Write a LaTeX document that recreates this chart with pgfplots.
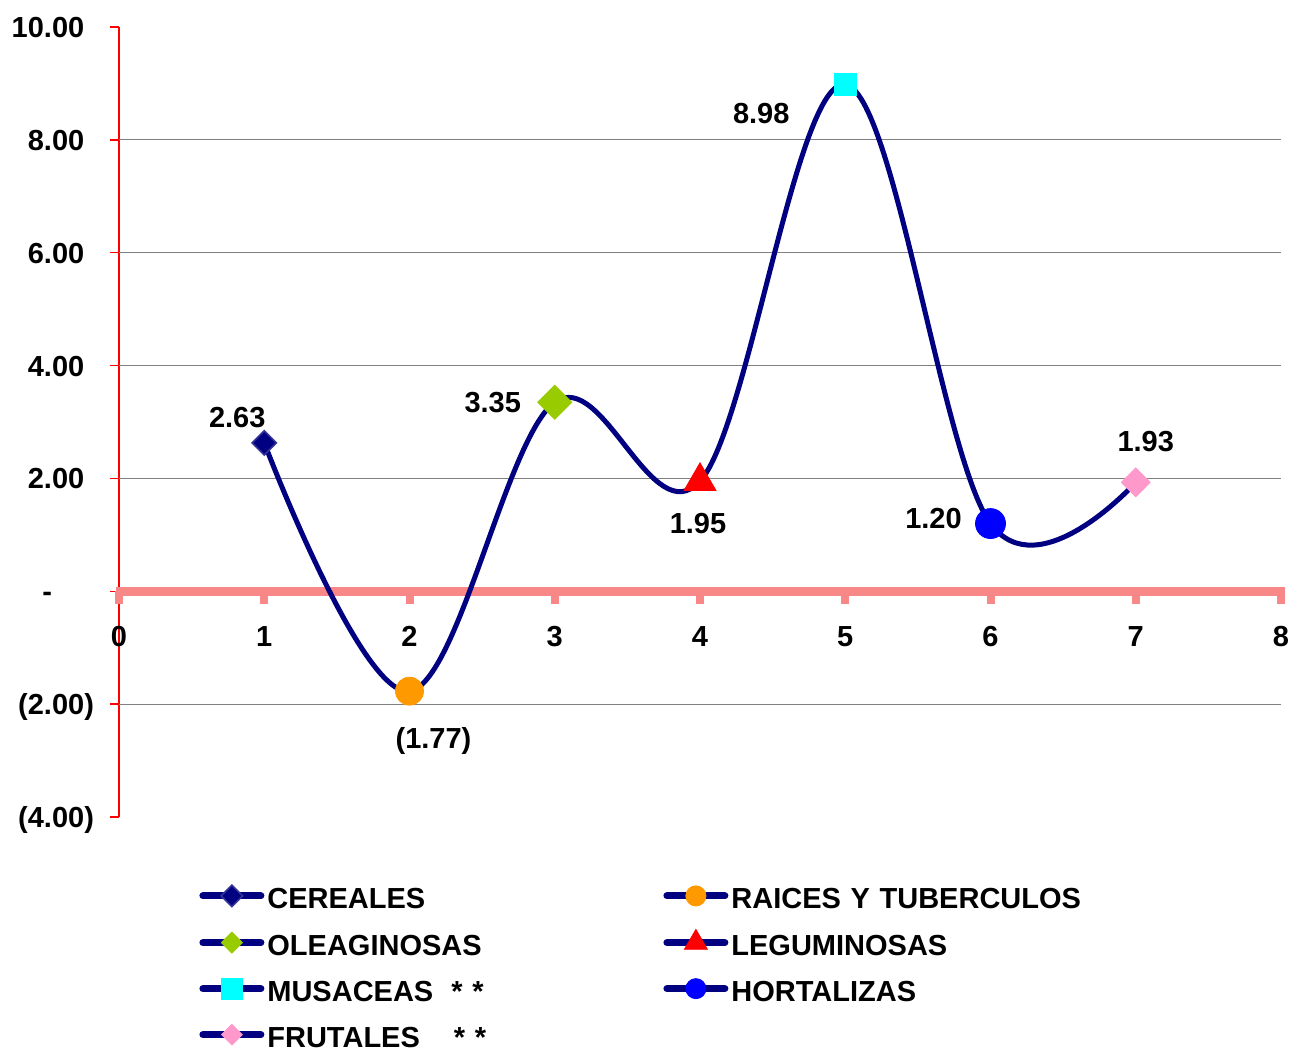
\documentclass[border=0pt]{standalone}
\usepackage{pgfplots}
\pgfplotsset{compat=1.18}
\usepackage{fontspec}
\setmainfont{Liberation Sans}

\definecolor{navyl}{RGB}{0,0,128}
\definecolor{axpink}{RGB}{248,135,135}
\definecolor{cerfill}{RGB}{0,0,128}
\definecolor{cerdraw}{RGB}{51,51,153}
\definecolor{raic}{RGB}{255,153,0}
\definecolor{olea}{RGB}{153,204,0}
\definecolor{musa}{RGB}{0,255,255}
\definecolor{hort}{RGB}{0,0,255}
\definecolor{frut}{RGB}{255,153,204}
\newcommand{\lbl}{\fontsize{14.5}{17}\selectfont\bfseries}
% scale of a marker in its legend image
\def\lgsc{1}
\tikzset{lgsc/.store in=\lgsc}

\begin{document}
\begin{tikzpicture}
\useasboundingbox (-59.5pt,-117.5pt) rectangle (587pt,408.5pt);
\begin{axis}[
    scale only axis,
    width=581pt, height=395pt,
    xmin=0, xmax=8, ymin=-4, ymax=10,
    clip=false,
    axis y line=left,
    axis x line=middle,
    hide obscured x ticks=false,
    x axis line style={draw=none},
    y axis line style={draw=red, line width=0.75pt, -},
    tick align=outside,
    major tick length=4.5pt,
    xtick={0,1,2,3,4,5,6,7,8},
    xticklabels={0,1,2,3,4,5,6,7,8},
    xtick style={draw=none},
    ytick={-4,-2,0,2,4,6,8,10},
    yticklabels={(4.00),(2.00),-\phantom{00)},2.00\phantom{)},4.00\phantom{)},6.00\phantom{)},8.00\phantom{)},10.00\phantom{)}},
    ytick style={draw=red, line width=0.75pt},
    xticklabel style={font=\lbl, anchor=north, yshift=-9.5pt},
    yticklabel style={font=\lbl, anchor=east, xshift=-4.5pt, yshift=-1.5pt},
    legend columns=2,
    legend cell align=left,
    legend style={draw=none, fill=none, at={(0,0)}, anchor=north west,
        xshift=40pt, yshift=-33pt, inner sep=0pt, font=\lbl, row sep=10.5pt,
        nodes={inner sep=0pt, text width=190pt, text height=12.5pt, text depth=0pt},
        /tikz/every odd column/.append style={column sep=1.5pt},
        /tikz/every even column/.append style={column sep=8pt}},
    legend image code/.code={
        \draw[navyl, line width=3.5pt, line cap=round] (0pt,0pt) -- (29pt,0pt);
        \draw[#1, /tikz/every mark/.append style={scale=\lgsc}] plot coordinates {(14.5pt,0pt)};
    },
]
% grid lines
\pgfplotsinvokeforeach{-2,2,4,6,8}{
    \draw[gray, line width=0.5pt] (axis cs:0,#1) -- (axis cs:8,#1);
}
% x axis band and ticks
\draw[axpink, line width=4.5pt] (axis cs:-0.02,0) -- (axis cs:8.03,0);
\pgfplotsinvokeforeach{0,...,8}{
    \draw[axpink, line width=4pt] (axis cs:#1,0) -- ++(0pt,-6.5pt);
}

\addplot[navyl, line width=2.5pt, smooth, tension=0.6, forget plot]
    coordinates {(1,2.63) (2,-1.77) (3,3.35) (4,1.95) (5,8.98) (6,1.20) (7,1.93)};

\addplot[only marks, lgsc=0.88, mark=square*, mark size=4.3pt,
    mark options={rotate=45, fill=cerfill, draw=cerdraw, line width=0.8pt}]
    coordinates {(1,2.63)};
\addlegendentry{CEREALES}
\addplot[only marks, lgsc=0.72, mark=*, mark size=7pt, mark options={fill=raic, draw=raic}]
    coordinates {(2,-1.77)};
\addlegendentry{RAICES Y TUBERCULOS}
\addplot[only marks, lgsc=0.62, mark=square*, mark size=6pt,
    mark options={rotate=45, fill=olea, draw=olea}]
    coordinates {(3,3.35)};
\addlegendentry{OLEAGINOSAS}
\addplot[only marks, lgsc=0.72, mark=triangle*, mark size=9.2pt, mark options={fill=red, draw=red}]
    coordinates {(4,1.95)};
\addlegendentry{LEGUMINOSAS}
\addplot[only marks, lgsc=0.95, mark=square*, mark size=5.5pt, mark options={fill=musa, draw=musa}]
    coordinates {(5,8.98)};
\addlegendentry{MUSACEAS\hspace{9pt}* *}
\addplot[only marks, lgsc=0.67, mark=*, mark size=7.5pt, mark options={fill=hort, draw=hort}]
    coordinates {(6,1.20)};
\addlegendentry{HORTALIZAS}
\addplot[only marks, lgsc=0.72, mark=square*, mark size=5.1pt,
    mark options={rotate=45, fill=frut, draw=frut}]
    coordinates {(7,1.93)};
\addlegendentry{FRUTALES\hspace{17pt}* *}

% data labels
\node[font=\lbl] at (axis cs:1,2.63) [xshift=-13.5pt, yshift=12.5pt] {2.63};
\node[font=\lbl] at (axis cs:2,-1.77) [xshift=12pt, yshift=-25pt] {(1.77)};
\node[font=\lbl] at (axis cs:3,3.35) [xshift=-31pt] {3.35};
\node[font=\lbl] at (axis cs:4,1.95) [xshift=-1pt, yshift=-21pt] {1.95};
\node[font=\lbl] at (axis cs:5,8.98) [xshift=-42pt, yshift=-14.5pt] {8.98};
\node[font=\lbl] at (axis cs:6,1.20) [xshift=-28.5pt, yshift=2.5pt] {1.20};
\node[font=\lbl] at (axis cs:7,1.93) [xshift=5pt, yshift=20.5pt] {1.93};
\end{axis}
\end{tikzpicture}
\end{document}
